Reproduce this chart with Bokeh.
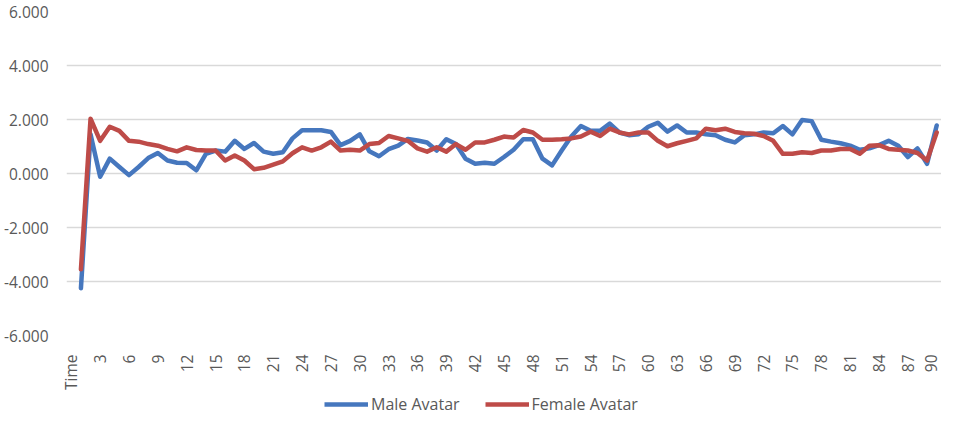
import math
from bokeh.plotting import figure
from bokeh.layouts import column
from bokeh.models import (Range1d, FixedTicker, Legend, LegendItem, ColumnDataSource)
from bokeh.embed import file_html
from bokeh.resources import INLINE

# ---- data ----
time_points = list(range(1, 91))
male_avatar = [
    -4.25, 1.45, -0.12, 0.55, 0.24, -0.06, 0.24, 0.57, 0.76, 0.48,
    0.40, 0.39, 0.12, 0.73, 0.85, 0.81, 1.21, 0.91, 1.13, 0.81,
    0.73, 0.79, 1.30, 1.60, 1.60, 1.60, 1.54, 1.05, 1.21, 1.45,
    0.82, 0.64, 0.90, 1.03, 1.28, 1.22, 1.15, 0.85, 1.27, 1.09,
    0.55, 0.36, 0.40, 0.36, 0.61, 0.88, 1.27, 1.27, 0.55, 0.30,
    0.85, 1.37, 1.76, 1.58, 1.58, 1.85, 1.52, 1.42, 1.45, 1.73,
    1.88, 1.55, 1.78, 1.52, 1.52, 1.45, 1.42, 1.25, 1.15, 1.42,
    1.45, 1.52, 1.49, 1.76, 1.45, 1.98, 1.94, 1.25, 1.18, 1.12,
    1.03, 0.88, 0.93, 1.05, 1.21, 1.03, 0.61, 0.93, 0.36, 1.78,
]
female_avatar = [
    -3.55, 2.03, 1.21, 1.73, 1.58, 1.21, 1.18, 1.09, 1.03, 0.91,
    0.82, 0.97, 0.87, 0.85, 0.85, 0.48, 0.67, 0.48, 0.16, 0.21,
    0.33, 0.45, 0.75, 0.97, 0.85, 0.97, 1.18, 0.85, 0.88, 0.85,
    1.09, 1.13, 1.39, 1.30, 1.21, 0.93, 0.81, 0.97, 0.81, 1.09,
    0.88, 1.15, 1.15, 1.25, 1.37, 1.33, 1.61, 1.52, 1.25, 1.25,
    1.27, 1.30, 1.37, 1.55, 1.39, 1.66, 1.52, 1.45, 1.52, 1.52,
    1.21, 1.01, 1.12, 1.21, 1.30, 1.66, 1.60, 1.66, 1.54, 1.49,
    1.47, 1.39, 1.21, 0.73, 0.73, 0.79, 0.76, 0.85, 0.85, 0.91,
    0.91, 0.73, 1.03, 1.05, 0.91, 0.88, 0.85, 0.76, 0.48, 1.52,
]
series_names = ["Male Avatar", "Female Avatar"]
x_tick_positions = [0, 3, 6, 9, 12, 15, 18, 21, 24, 27, 30, 33, 36, 39, 42, 45,
                    48, 51, 54, 57, 60, 63, 66, 69, 72, 75, 78, 81, 84, 87, 90]
x_tick_labels = ["Time", "3", "6", "9", "12", "15", "18", "21", "24", "27", "30",
                 "33", "36", "39", "42", "45", "48", "51", "54", "57", "60", "63",
                 "66", "69", "72", "75", "78", "81", "84", "87", "90"]
y_tick_positions = [-6, -4, -2, 0, 2, 4, 6]
y_tick_labels = ["-6.000", "-4.000", "-2.000", "0.000", "2.000", "4.000", "6.000"]

FONT = "Open Sans"
TXT = "#595959"
BLUE = "#4677BE"
RED = "#BE4B48"
LW = 4.5

src = ColumnDataSource(dict(t=time_points, male=male_avatar, female=female_avatar))

# ---------------- main chart ----------------
p = figure(width=941, height=393, output_backend="svg", toolbar_location=None,
           x_range=Range1d(-0.5, 90.5), y_range=Range1d(-6, 6),
           min_border_left=65, min_border_right=0, min_border_top=11,
           min_border_bottom=58)
p.outline_line_color = None
p.background_fill_color = "white"
p.border_fill_color = "white"

p.line("t", "male", source=src, line_color=BLUE, line_width=LW,
       line_join="round", line_cap="round")
p.line("t", "female", source=src, line_color=RED, line_width=LW,
       line_join="round", line_cap="round")

xa = p.xaxis[0]
xa.ticker = FixedTicker(ticks=x_tick_positions)
xa.major_label_overrides = {pos: lab for pos, lab in zip(x_tick_positions, x_tick_labels)}
xa.major_label_orientation = math.pi / 2
xa.axis_line_color = None
xa.major_tick_line_color = None
xa.minor_tick_line_color = None
xa.major_label_standoff = 13
xa.major_label_text_font = FONT
xa.major_label_text_font_size = "15.5px"
xa.major_label_text_color = TXT

ya = p.yaxis[0]
ya.ticker = FixedTicker(ticks=y_tick_positions)
ya.major_label_overrides = {pos: lab for pos, lab in zip(y_tick_positions, y_tick_labels)}
ya.axis_line_color = None
ya.major_tick_line_color = None
ya.minor_tick_line_color = None
ya.major_label_standoff = 12
ya.major_label_text_font = FONT
ya.major_label_text_font_size = "15.5px"
ya.major_label_text_color = TXT

p.xgrid.grid_line_color = None
p.ygrid.grid_line_color = "#d9d9d9"
p.ygrid.grid_line_width = 1.5

# ---------------- legend strip ----------------
# same series drawn on a y range far from the data, so only the legend keys show
lg = figure(width=941, height=22, output_backend="svg", toolbar_location=None,
            x_range=Range1d(-0.5, 90.5), y_range=Range1d(100, 101),
            x_axis_type=None, y_axis_type=None,
            min_border_left=0, min_border_right=0, min_border_top=0,
            min_border_bottom=0)
lg.outline_line_color = None
lg.xgrid.visible = False
lg.ygrid.visible = False
lm = lg.line("t", "male", source=src, line_color=BLUE, line_width=LW)
lf = lg.line("t", "female", source=src, line_color=RED, line_width=LW)

legend = Legend(items=[LegendItem(label=series_names[0], renderers=[lm]),
                       LegendItem(label=series_names[1], renderers=[lf])],
                orientation="horizontal", location=(258, 0),
                border_line_color=None, background_fill_alpha=0,
                label_text_font=FONT, label_text_font_size="16px",
                label_text_color=TXT, glyph_width=44, glyph_height=16,
                label_standoff=3, spacing=25, padding=0, margin=0)
lg.add_layout(legend, "center")

layout = column(p, lg, spacing=0)
open("out.html", "w").write(file_html(layout, INLINE))
